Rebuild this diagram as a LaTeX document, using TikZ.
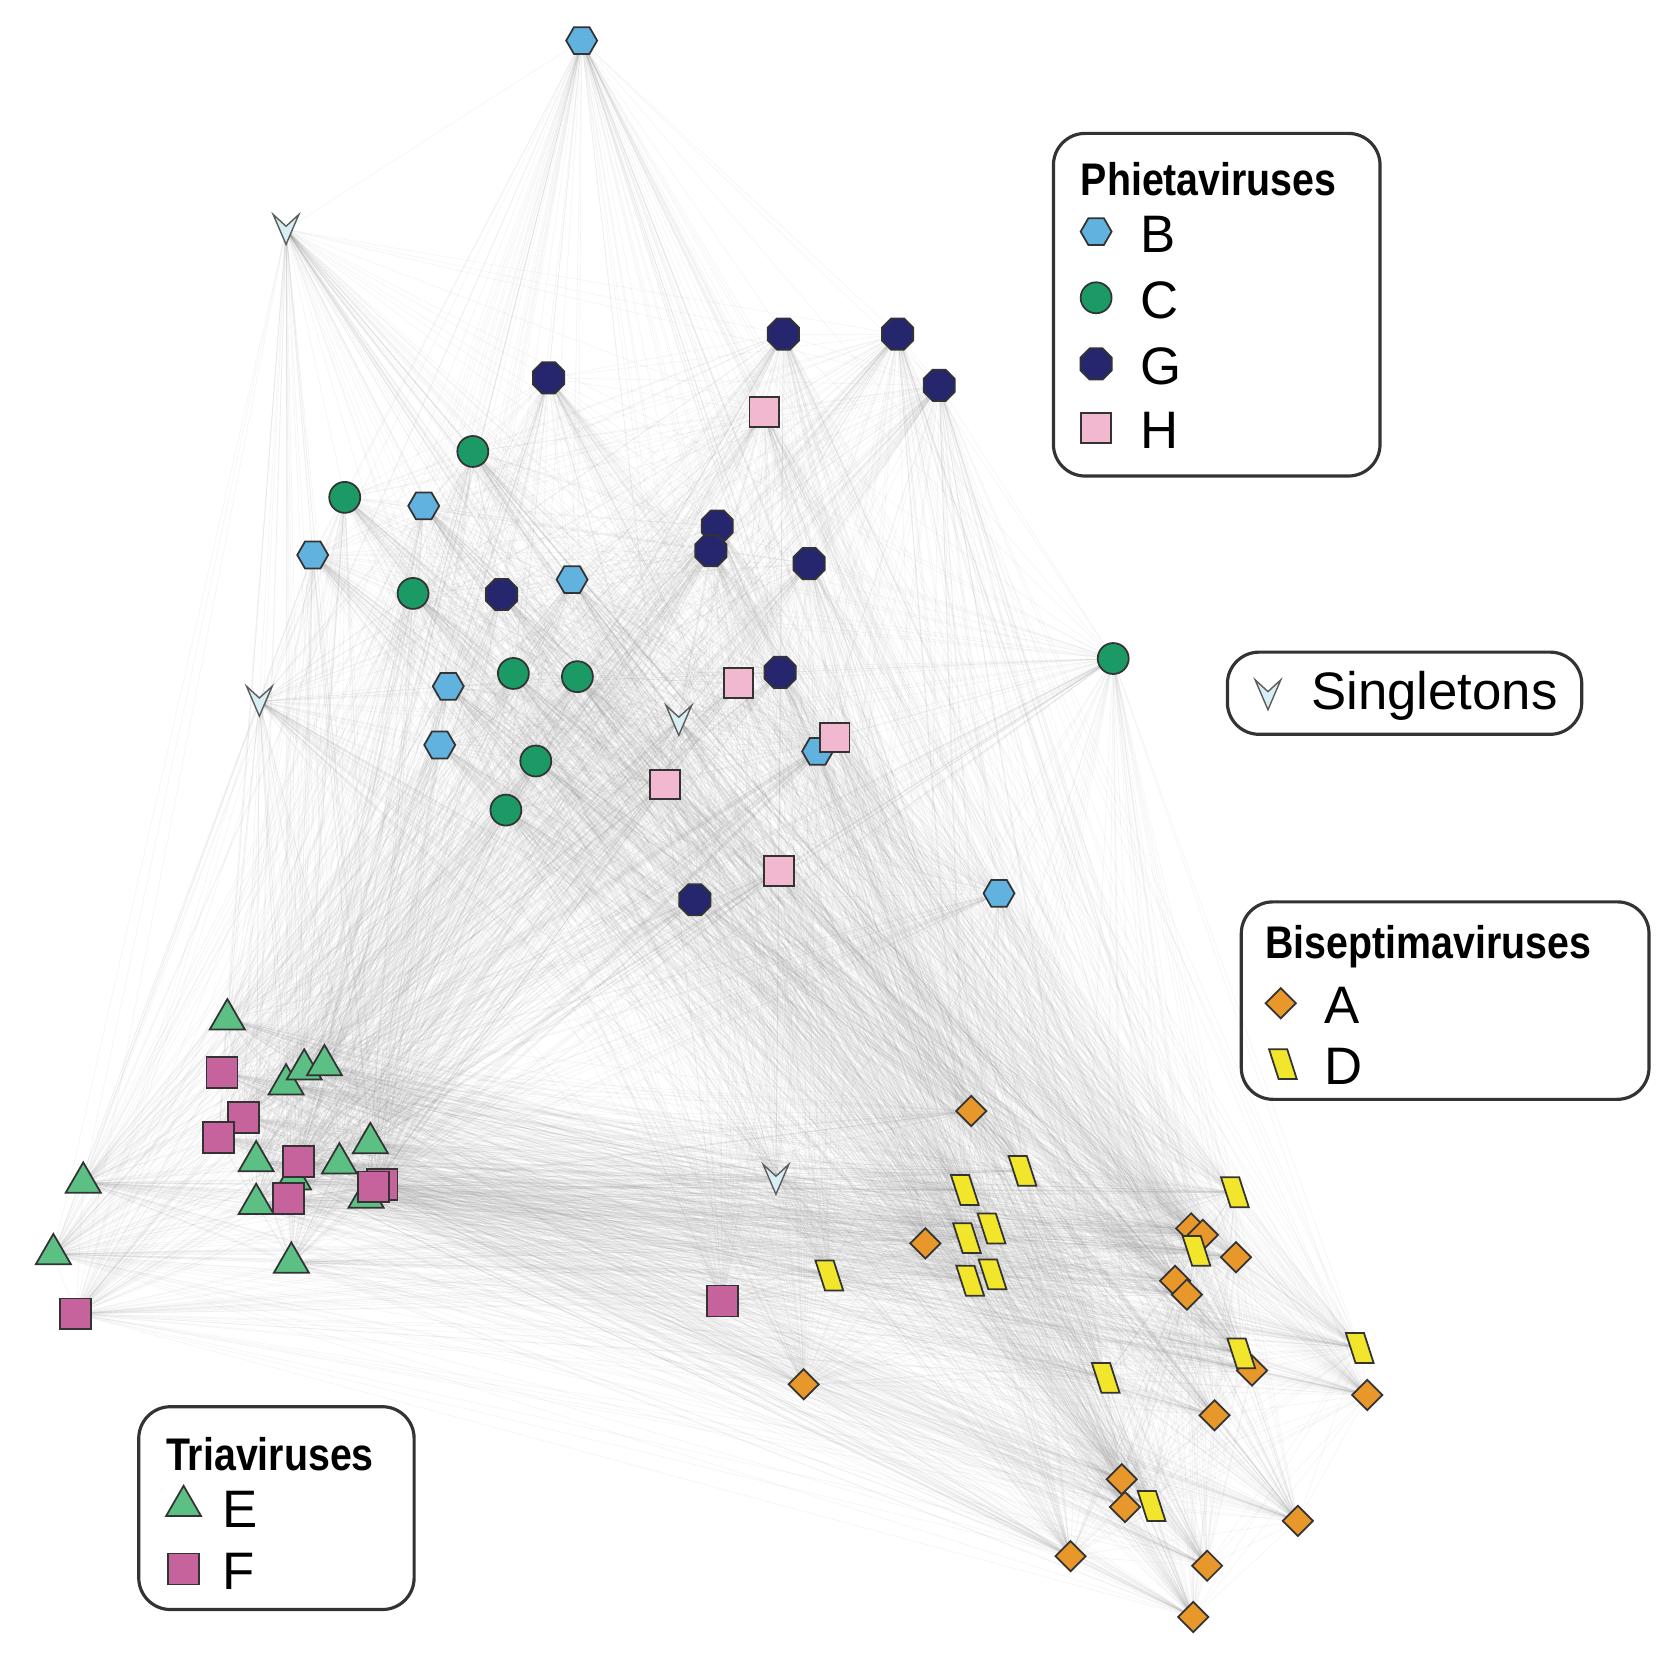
\documentclass[tikz,border=0pt]{standalone}
\usepackage{fontspec}
\setmainfont{Liberation Sans}
\usetikzlibrary{shapes.geometric,backgrounds}
\definecolor{cB}{HTML}{62B2DF}
\definecolor{cC}{HTML}{1C9A66}
\definecolor{cG}{HTML}{26266F}
\definecolor{cH}{HTML}{F2B8D0}
\definecolor{cS}{HTML}{D8EEF5}
\definecolor{cE}{HTML}{5CC084}
\definecolor{cF}{HTML}{C6629C}
\definecolor{cA}{HTML}{E8982A}
\definecolor{cD}{HTML}{F2E62C}
\definecolor{bd}{HTML}{333333}
\tikzset{
  base/.style={draw=bd,line width=0.5pt,inner sep=0.3pt},
  B/.style={base,regular polygon,regular polygon sides=6,minimum size=8.8pt,fill=cB},
  C/.style={base,circle,minimum size=8.8pt,fill=cC},
  G/.style={base,regular polygon,regular polygon sides=8,minimum size=9.6pt,fill=cG},
  H/.style={base,rectangle,minimum size=8.4pt,fill=cH},
  F/.style={base,rectangle,minimum size=8.8pt,fill=cF},
  E/.style={base,regular polygon,regular polygon sides=3,minimum size=11.5pt,fill=cE},
  A/.style={base,diamond,minimum size=8.8pt,fill=cA},
  D/.style={circle,inner sep=0.3pt,minimum size=8pt,draw=none},
  S/.style={circle,inner sep=0.3pt,minimum size=1pt,draw=none},
  chev/.style={draw=bd!80,line width=0.4pt,fill=cS},
  par/.style={draw=bd,line width=0.5pt,fill=cD},
  edge/.style={draw=gray,line width=0.25pt,opacity=0.07},
  box/.style={draw=bd,line width=0.9pt,rounded corners=9pt},
  ttl/.style={font=\bfseries\fontsize{13}{15}\selectfont,inner sep=0pt},
  ent/.style={font=\fontsize{15}{17}\selectfont,inner sep=0pt,anchor=west},
}
\begin{document}
\begin{tikzpicture}[x=0.010673cm,y=-0.010673cm]
\useasboundingbox (0,0) rectangle (1560,1552);
\foreach \x/\y/\s [count=\i] in {
 268/215/S,243/657/S,636/675/S,727/1105/S,
 545/38/B,397/474/B,293/520/B,536/543/B,420/643/B,412/698/B,766/704/B,936/837/B,
 443/423/C,323/466/C,387/556/C,481/631/C,541/634/C,502/713/C,474/759/C,1043/617/C,
 514/354/G,734/313/G,841/313/G,880/361/G,672/493/G,666/516/G,758/528/G,470/557/G,731/630/G,651/843/G,
 716/386/H,692/640/H,782/691/H,623/735/H,730/816/H,
 213/955/E,268/1016/E,285/1002/E,304/998/E,240/1088/E,347/1071/E,318/1090/E,275/1105/E,240/1128/E,343/1122/E,78/1108/E,50/1175/E,273/1183/E,
 208/1005/F,228/1047/F,205/1066/F,280/1088/F,270/1123/F,358/1110/F,350/1112/F,71/1231/F,677/1219/F,
 910/1041/A,867/1165/A,1116/1151/A,1127/1157/A,1158/1178/A,1101/1200/A,1112/1213/A,1173/1284/A,1281/1307/A,1138/1326/A,1051/1386/A,1054/1412/A,1216/1425/A,753/1297/A,1003/1458/A,1131/1467/A,1118/1515/A,
 958/1097/D,904/1115/D,1157/1117/D,929/1151/D,906/1160/D,1121/1172/D,777/1195/D,909/1200/D,930/1194/D,1163/1268/D,1274/1263/D,1036/1291/D,1079/1411/D}
 {\node[\s] (n\i) at (\x,\y) {}; \xdef\N{\i}}
\begin{pgfonlayer}{background}
\foreach \i in {1,...,\N}{\foreach \j in {1,...,\N}{\ifnum\j>\i \draw[edge] (n\i.center)--(n\j.center);\fi}}
\end{pgfonlayer}
\foreach \i in {1,...,4}{\draw[chev] (n\i) +(-12,-14) -- +(0,14) -- +(12,-14) -- +(0,-3) -- cycle;}
\foreach \i in {75,...,87}{\draw[par] (n\i) +(-13,-14) -- +(4,-14) -- +(13,14) -- +(-4,14) -- cycle;}
% legends
\draw[box] (987,125) rectangle (1293,446);
\node[ttl,anchor=west] (t1) at (1012,168) {\scalebox{0.86}[1]{Phietaviruses}};
\node[B] (lb) at (1027,217) {}; \node[ent] (lbt) at (1068,220) {B};
\node[C] (lc) at (1027,279) {}; \node[ent] (lct) at (1068,281) {C};
\node[G] (lg) at (1027,341) {}; \node[ent] (lgt) at (1068,343) {G};
\node[H] (lh) at (1027,401) {}; \node[ent] (lht) at (1068,403) {H};
\draw[box] (1150,611) rectangle (1482,688);
\node[S] (ls) at (1188,651) {};
\draw[chev] (ls) +(-12,-14) -- +(0,14) -- +(12,-14) -- +(0,-3) -- cycle;
\node[ent] (lst) at (1228,652) {Singletons};
\draw[box] (1163,845) rectangle (1545,1030);
\node[ttl,anchor=west] (t2) at (1185,887) {\scalebox{0.86}[1]{Biseptimaviruses}};
\node[A] (la) at (1200,940) {}; \node[ent] (lat) at (1240,942) {A};
\node[D] (ld) at (1202,997) {};
\draw[par] (ld) +(-13,-14) -- +(4,-14) -- +(13,14) -- +(-4,14) -- cycle;
\node[ent] (ldt) at (1240,999) {D};
\draw[box] (130,1318) rectangle (388,1508);
\node[ttl,anchor=west] (t3) at (155,1362) {\scalebox{0.86}[1]{Triaviruses}};
\node[E] (le) at (172,1411) {}; \node[ent] (let) at (208,1414) {E};
\node[F] (lf) at (172,1470) {}; \node[ent] (lft) at (208,1472) {F};
\end{tikzpicture}
\end{document}
